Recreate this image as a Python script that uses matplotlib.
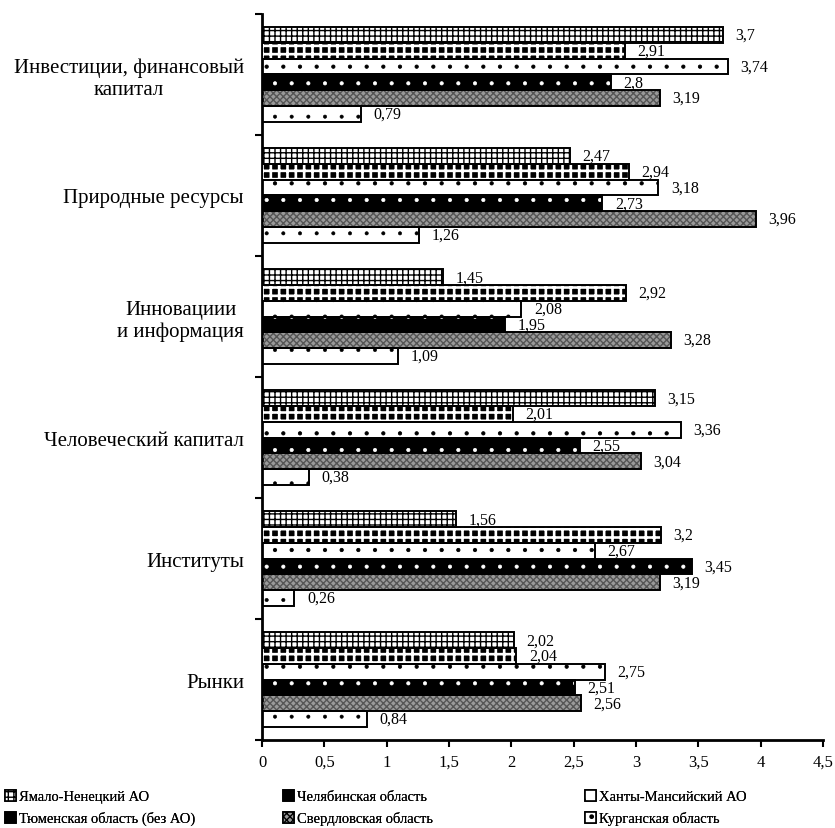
import numpy as np
import matplotlib.pyplot as plt
from matplotlib.patches import Patch

plt.rcParams['font.family'] = ['Liberation Serif', 'DejaVu Serif']

# factor groups, top to bottom
categories = [
    "Инвестиции, финансовый\nкапитал",
    "Природные ресурсы",
    "Инновациии\nи информация",
    "Человеческий капитал",
    "Институты",
    "Рынки",
]

regions = [
    "Ямало-Ненецкий АО",
    "Челябинская область",
    "Ханты-Мансийский АО",
    "Тюменская область (без АО)",
    "Свердловская область",
    "Курганская область",
]

# scores per region, in the order of categories
yanao = [3.7, 2.47, 1.45, 3.15, 1.56, 2.02]
chel = [2.91, 2.94, 2.92, 2.01, 3.2, 2.04]
hmao = [3.74, 3.18, 2.08, 3.36, 2.67, 2.75]
tyum = [2.8, 2.73, 1.95, 2.55, 3.45, 2.51]
sverd = [3.19, 3.96, 3.28, 3.04, 3.19, 2.56]
kurgan = [0.79, 1.26, 1.09, 0.38, 0.26, 0.84]

series = [yanao, chel, hmao, tyum, sverd, kurgan]

# (face, hatch, hatch colour, hatch width) for each region
styles = [
    ("white", "+++", "black", 1.0),
    ("black", "++", "white", 1.9),
    ("white", ".", "black", 0.6),
    ("black", ".", "white", 0.5),
    ("#9a9a9a", "xxxxx", "#555555", 1.0),
    ("white", ".", "black", 0.4),
]

fig = plt.figure(figsize=(8.35, 8.29), dpi=100)
ax = fig.add_axes([0.3138, 0.106, 0.6718, 0.876])

n = len(categories)
ypos = np.arange(n)[::-1]  # first category on top
h = 0.13

for i, (vals, (face, hatch, hc, hw)) in enumerate(zip(series, styles)):
    y = ypos + (2.5 - i) * h
    ax.barh(y, vals, height=h, color=face, edgecolor="none", zorder=2)
    with plt.rc_context({"hatch.linewidth": hw}):
        ax.barh(y, vals, height=h, color="none", edgecolor=hc, hatch=hatch,
                linewidth=0, zorder=3)
    ax.barh(y, vals, height=h, color="none", edgecolor="black",
            linewidth=1.4, zorder=4)
    for yy, v in zip(y, vals):
        ax.text(v + 0.1, yy, str(v).replace(".", ","), va="center",
                ha="left", fontsize=11.5)

ax.set_xlim(0, 4.5)
ax.set_ylim(-0.5, n - 0.5)

xt = np.arange(0, 4.51, 0.5)
ax.set_xticks(xt)
ax.set_xticklabels([("%g" % t).replace(".", ",") for t in xt], fontsize=12)

ax.set_yticks(np.arange(-0.5, n, 1.0))
ax.set_yticklabels([])
ax.set_yticks(ypos, minor=True)
ax.set_yticklabels(categories, minor=True, fontsize=15,
                   multialignment="center")
ax.tick_params(axis="y", which="minor", length=0, pad=13)
ax.tick_params(axis="y", which="major", length=5, width=1.5)
ax.tick_params(axis="x", length=5, width=1.5, pad=5)

for s in ["top", "right"]:
    ax.spines[s].set_visible(False)
for s in ["left", "bottom"]:
    ax.spines[s].set_linewidth(2)

# legend: three columns of two entries each
handles = []
for face, hatch, hc, hw in styles:
    with plt.rc_context({"hatch.linewidth": 0.8}):
        handles.append(Patch(facecolor=face, edgecolor="black", hatch=hatch,
                             linewidth=1.2))
col_x = [0.006, 0.339, 0.701]
for c, (a, b) in enumerate([(0, 3), (1, 4), (2, 5)]):
    leg = fig.legend([handles[a], handles[b]], [regions[a], regions[b]],
                     loc="upper left", bbox_to_anchor=(col_x[c], 0.046),
                     frameon=False, fontsize=10.5, handlelength=0.75,
                     handleheight=0.75, handletextpad=0.2, labelspacing=0.55,
                     borderpad=0, borderaxespad=0)
    fig.add_artist(leg)

fig.savefig("out.png", dpi=100)
